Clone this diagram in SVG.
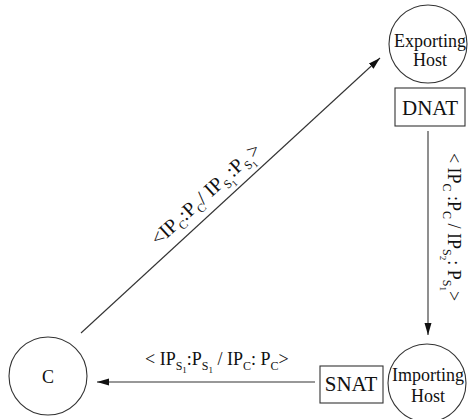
<svg xmlns="http://www.w3.org/2000/svg" width="468" height="419" viewBox="0 0 468 419" font-family="'Liberation Serif', 'DejaVu Serif', serif">
<style>
.node{fill:none;stroke:#333;stroke-width:1.1}
.t{font-family:'Liberation Serif','DejaVu Serif',serif;fill:#111}
.nt{font-size:18px;text-anchor:middle}
.bt{font-size:21px;text-anchor:middle}
.lb{font-size:18px}
.sub{font-size:12px}
.sub2{font-size:9px}
.edge{stroke:#333;stroke-width:1.1;fill:none;marker-end:url(#ah)}
</style>
<defs>
<marker id="ah" markerUnits="userSpaceOnUse" markerWidth="13" markerHeight="8" refX="12" refY="3.5" orient="auto">
<path d="M0,0 L12,3.5 L0,7 z" fill="#111"/>
</marker>
</defs>
<rect width="468" height="419" fill="#fff"/>
<g id="edges">
<line class="edge" x1="81" y1="333" x2="380" y2="58"/>
<line class="edge" x1="428" y1="131" x2="428" y2="335"/>
<line class="edge" x1="315" y1="382" x2="97" y2="382"/>
</g>
<g id="labels">
<text class="t lb" text-anchor="middle" transform="translate(210,199) rotate(-42.6)" style="font-size:20px">&lt;IP<tspan class="sub" dy="5">C</tspan><tspan dy="-5">:P</tspan><tspan class="sub" dy="5">C</tspan><tspan dy="-5">/ IP</tspan><tspan class="sub" dy="5">S</tspan><tspan class="sub2" dy="3">1</tspan><tspan dy="-8">:P</tspan><tspan class="sub" dy="5">S</tspan><tspan class="sub2" dy="3">1</tspan><tspan dy="-8">&gt;</tspan></text>
<text class="t lb" text-anchor="middle" transform="translate(448,227) rotate(90)">&lt; IP<tspan class="sub" dy="5">C</tspan><tspan dy="-5"> :P</tspan><tspan class="sub" dy="5">C</tspan><tspan dy="-5"> / IP</tspan><tspan class="sub" dy="5">S</tspan><tspan class="sub2" dy="3">2</tspan><tspan dy="-8">: P</tspan><tspan class="sub" dy="5">S</tspan><tspan class="sub2" dy="3">1</tspan><tspan dy="-8">&gt;</tspan></text>
<text class="t lb" x="145" y="365">&lt; IP<tspan class="sub" dy="5">S</tspan><tspan class="sub2" dy="3">1</tspan><tspan dy="-8">:P</tspan><tspan class="sub" dy="5">S</tspan><tspan class="sub2" dy="3">1</tspan><tspan dy="-8"> / IP</tspan><tspan class="sub" dy="5">C</tspan><tspan dy="-5">: P</tspan><tspan class="sub" dy="5">C</tspan><tspan dy="-5">&gt;</tspan></text>
</g>
<g id="C">
<circle class="node" cx="48" cy="376" r="39"/>
<text class="t nt" x="48" y="383">C</text>
</g>
<g id="exporting">
<circle class="node" cx="428" cy="44" r="39"/>
<text class="t nt" x="430" y="47">Exporting</text>
<text class="t nt" x="430" y="66">Host</text>
</g>
<g id="dnat">
<rect class="node" x="395" y="88" width="70" height="38"/>
<text class="t bt" x="430" y="115">DNAT</text>
</g>
<g id="importing">
<circle class="node" cx="427" cy="383" r="39"/>
<text class="t nt" x="428" y="381">Importing</text>
<text class="t nt" x="428" y="402">Host</text>
</g>
<g id="snat">
<rect class="node" x="320" y="366" width="63" height="37"/>
<text class="t bt" x="351" y="391">SNAT</text>
</g>
</svg>
